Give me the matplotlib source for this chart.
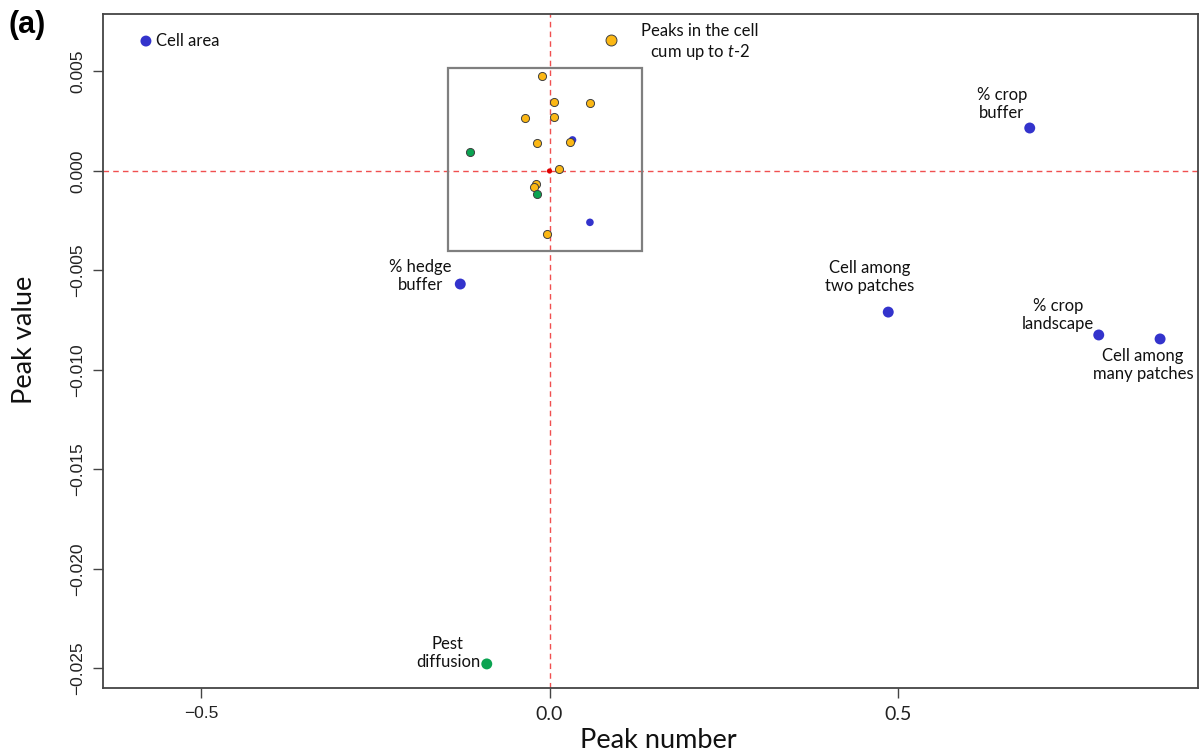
import matplotlib
matplotlib.use("Agg")
import matplotlib.pyplot as plt
from matplotlib.patches import Rectangle

plt.rcParams["mathtext.fontset"] = "custom"
plt.rcParams["mathtext.rm"] = "Lato"
plt.rcParams["mathtext.it"] = "Lato:italic"

# Labelled variables (large markers)
big_labels = ["Cell area", "Peaks in the cell\ncum up to $\\mathit{t}$-$\\mathit{2}$", "% crop\nbuffer",
              "% hedge\nbuffer", "Cell among\ntwo patches", "% crop\nlandscape",
              "Cell among\nmany patches", "Pest\ndiffusion"]
big_x = [-0.579, 0.088, 0.689, -0.128, 0.486, 0.788, 0.876, -0.090]
big_y = [0.00653, 0.00658, 0.00216, -0.00568, -0.00709, -0.00824, -0.00844, -0.02477]
big_group = ["blue", "yellow", "blue", "blue", "blue", "blue", "blue", "green"]

# Unlabelled variables near the origin (small markers)
blue_x = [0.033, 0.058]
blue_y = [0.00156, -0.00258]
yellow_x = [-0.011, 0.007, 0.058, -0.035, 0.0065, -0.018, 0.029, 0.014, -0.020, -0.022, -0.004]
yellow_y = [0.00477, 0.00348, 0.00340, 0.00265, 0.00273, 0.00142, 0.00146, 0.00009,
            -0.00065, -0.00082, -0.00318]
green_x = [-0.114, -0.018]
green_y = [0.00095, -0.00114]
red_x = [0.0]
red_y = [0.0]

# Zoomed region outline
zoom_x = [-0.146, 0.133]
zoom_y = [-0.0040, 0.00516]

# Label offsets (points) relative to each labelled marker
label_dx = [7.2, 64, -20, -28.8, -13.7, -29.5, -12.2, -28]
label_dy = [0, -2, 17.3, 5.8, 25.2, 14.4, -18.7, 7.9]
label_ha = ["left", "center", "center", "center", "center", "center", "center", "center"]

colors = {"blue": "#3333cc", "yellow": "#fbb714", "green": "#0aa351", "red": "#e00000"}

fig = plt.figure(figsize=(12.04, 7.56), dpi=100)
ax = fig.add_axes([103 / 1204, 1 - 688 / 756, 1095 / 1204, 674 / 756])

ax.set_xlim(-0.6406, 0.9304)
ax.set_ylim(-0.02598, 0.007889)

ax.axvline(0, color="#f05050", lw=1.0, dashes=(4, 3), zorder=1)
ax.axhline(0, color="#f05050", lw=1.0, dashes=(4, 3), zorder=1)

ax.add_patch(Rectangle((zoom_x[0], zoom_y[0]), zoom_x[1] - zoom_x[0], zoom_y[1] - zoom_y[0],
                       fill=False, edgecolor="#7f7f7f", lw=1.6, zorder=2))

# small markers
ax.scatter(blue_x, blue_y, s=30, c=colors["blue"], edgecolors="none", zorder=3)
ax.scatter(yellow_x, yellow_y, s=34, c=colors["yellow"], edgecolors="#404040", linewidths=0.7, zorder=4)
ax.scatter(green_x, green_y, s=34, c=colors["green"], edgecolors="#404040", linewidths=0.7, zorder=5)
ax.scatter(red_x, red_y, s=14, c=colors["red"], edgecolors="none", zorder=6)

# large labelled markers
for lab, x, y, g, dx, dy, ha in zip(big_labels, big_x, big_y, big_group, label_dx, label_dy, label_ha):
    if g == "yellow":
        ax.scatter([x], [y], s=62, c=colors[g], edgecolors="#404040", linewidths=0.7, zorder=5)
    else:
        ax.scatter([x], [y], s=62, c=colors[g], edgecolors="none", zorder=5)
    ax.annotate(lab, (x, y), xytext=(dx, dy), textcoords="offset points",
                ha=ha, va="center", multialignment="center", fontsize=12,
                family="Lato", color="#111111", zorder=7)

# axes styling
for sp in ax.spines.values():
    sp.set_color("#444444")
    sp.set_linewidth(1.3)

xt = [-0.5, 0.0, 0.5]
yt = [0.005, 0.0, -0.005, -0.010, -0.015, -0.020, -0.025]
ax.set_xticks(xt)
ax.set_xticklabels(["\u22120.5", "0.0", "0.5"])
ax.set_yticks(yt)
ax.set_yticklabels(["0.005", "0.000", "\u22120.005", "\u22120.010", "\u22120.015", "\u22120.020", "\u22120.025"],
                   rotation=90, va="center")
ax.tick_params(axis="both", length=7, width=1.0, color="#444444", labelsize=12.5, pad=6)
for t in ax.get_xticklabels() + ax.get_yticklabels():
    t.set_family("Liberation Sans")
    t.set_color("#222222")
for t in ax.get_xticklabels()[1:]:
    t.set_family("Lato")
    t.set_fontsize(14)

fig.text(658 / 1204, 1 - 740 / 756, "Peak number", ha="center", va="center",
         fontsize=19.5, family="Lato", color="#111111")
fig.text(25 / 1204, 1 - 340 / 756, "Peak value", ha="center", va="center", rotation=90,
         fontsize=19.5, family="Lato", color="#111111")
fig.text(8 / 1204, 1 - 25 / 756, "(a)", ha="left", va="center", fontsize=22,
         fontweight="bold", family="Liberation Sans")

fig.savefig("out.png", dpi=100)
